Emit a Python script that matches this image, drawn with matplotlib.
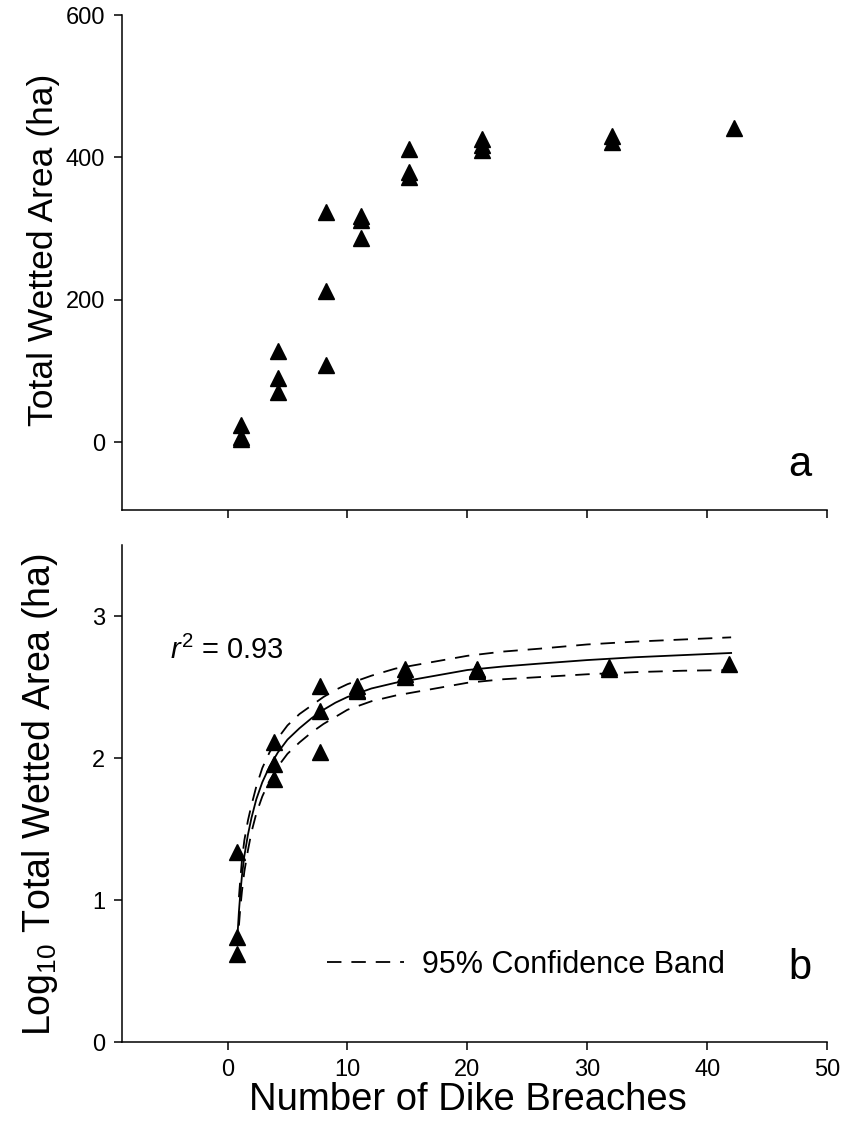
import numpy as np
import matplotlib
matplotlib.use("Agg")
import matplotlib.pyplot as plt
from matplotlib.lines import Line2D

plt.rcParams['font.family'] = ['Liberation Sans', 'DejaVu Sans']
plt.rcParams['mathtext.fontset'] = 'custom'
plt.rcParams['mathtext.rm'] = 'Liberation Sans'
plt.rcParams['mathtext.it'] = 'Liberation Sans:italic'

# panel a: total wetted area vs number of breaches
breaches_a = [1.1, 1.1, 1.1, 4.2, 4.2, 4.2, 8.2, 8.2, 8.2, 11.1, 11.1, 11.1,
              15.1, 15.1, 15.1, 21.2, 21.2, 21.2, 32.1, 32.1, 42.2]
area_a = [25, 8, 4, 128, 91, 70, 324, 213, 108, 318, 312, 287,
          412, 379, 372, 426, 418, 411, 430, 422, 441]

# panel b: log10 area
breaches_b = [0.8, 0.8, 0.8, 3.9, 3.9, 3.9, 7.7, 7.7, 7.7, 10.8, 10.8, 10.8,
              14.8, 14.8, 14.8, 20.8, 20.8, 20.8, 31.8, 31.8, 41.8]
logarea_b = [1.34, 0.74, 0.62, 2.11, 1.96, 1.85, 2.51, 2.33, 2.04, 2.51, 2.48, 2.47,
             2.63, 2.59, 2.57, 2.63, 2.62, 2.61, 2.64, 2.63, 2.66]

# fitted curve and 95% band
fit_x = [0.85, 0.95, 1.05, 1.2, 1.4, 1.7, 2.0, 2.4, 2.9, 3.5, 4.2, 5.0, 6.0, 7.0,
         8.0, 9.0, 10, 12, 14, 16, 18, 20, 23, 26, 30, 34, 38, 42]
fit_y = [0.78, 0.92, 1.03, 1.17, 1.31, 1.46, 1.58, 1.71, 1.83, 1.94, 2.04, 2.13,
         2.21, 2.28, 2.34, 2.39, 2.43, 2.49, 2.53, 2.56, 2.59, 2.62, 2.645, 2.665,
         2.69, 2.71, 2.725, 2.74]
band_x = fit_x[1:]
band_hi = [1.02, 1.13, 1.28, 1.42, 1.56, 1.67, 1.80, 1.93, 2.04, 2.14, 2.23, 2.31,
           2.37, 2.43, 2.48, 2.52, 2.58, 2.63, 2.66, 2.69, 2.72, 2.75, 2.77, 2.80,
           2.82, 2.835, 2.85]
band_lo = [0.82, 0.93, 1.06, 1.20, 1.35, 1.48, 1.61, 1.73, 1.84, 1.94, 2.03, 2.11,
           2.18, 2.24, 2.29, 2.34, 2.40, 2.44, 2.47, 2.50, 2.53, 2.555, 2.57, 2.59,
           2.605, 2.615, 2.62]

fig = plt.figure(figsize=(8.48, 11.28), dpi=100)
ax1 = fig.add_axes([0.1439, 0.5479, 0.8314, 0.4388])
ax2 = fig.add_axes([0.1439, 0.0762, 0.8314, 0.4406])

dash = (0, (8, 5.5))

for ax in (ax1, ax2):
    for s in ('top', 'right'):
        ax.spines[s].set_visible(False)
    for s in ('left', 'bottom'):
        ax.spines[s].set_linewidth(1.1)
    ax.tick_params(direction='out', length=6, width=1.1, labelsize=17, pad=6)
    ax.set_xlim(-8.8, 50)
    ax.set_xticks([0, 10, 20, 30, 40, 50])

ax1.plot(breaches_a, area_a, '^', color='black', ms=11, mec='black')
ax1.set_ylim(-95, 600)
ax1.set_yticks([0, 200, 400, 600])
ax1.set_xticklabels([])
ax1.set_ylabel('Total Wetted Area (ha)', fontsize=25.5)
ax1.yaxis.set_label_coords(-0.088, 0.525)
ax1.text(0.962, 0.09, 'a', transform=ax1.transAxes, fontsize=30,
         ha='center', va='center')

ax2.plot(band_x, band_hi, color='black', lw=1.3, ls=dash)
ax2.plot(band_x, band_lo, color='black', lw=1.3, ls=dash)
ax2.plot(fit_x, fit_y, color='black', lw=1.3)
ax2.plot(breaches_b, logarea_b, '^', color='black', ms=11, mec='black')
ax2.set_ylim(0, 3.5)
ax2.set_yticks([0, 1, 2, 3])
ax2.set_ylabel(r'Log$_{10}$ Total Wetted Area (ha)', fontsize=27)
ax2.yaxis.set_label_coords(-0.088, 0.497)
ax2.set_xlabel('Number of Dike Breaches', fontsize=27.5)
ax2.xaxis.set_label_coords(0.49, -0.08)
ax2.text(0.962, 0.149, 'b', transform=ax2.transAxes, fontsize=30,
         ha='center', va='center')
ax2.text(0.068, 0.789, r'$r^2$ = 0.93', transform=ax2.transAxes, fontsize=21,
         ha='left', va='center')

h = Line2D([], [], color='black', lw=1.3, ls=dash)
ax2.legend([h], ['95% Confidence Band'], loc='center left', frameon=False,
           bbox_to_anchor=(0.274, 0.155), fontsize=22, handlelength=2.5,
           handletextpad=0.6, borderaxespad=0)

fig.savefig('out.png', dpi=100)
